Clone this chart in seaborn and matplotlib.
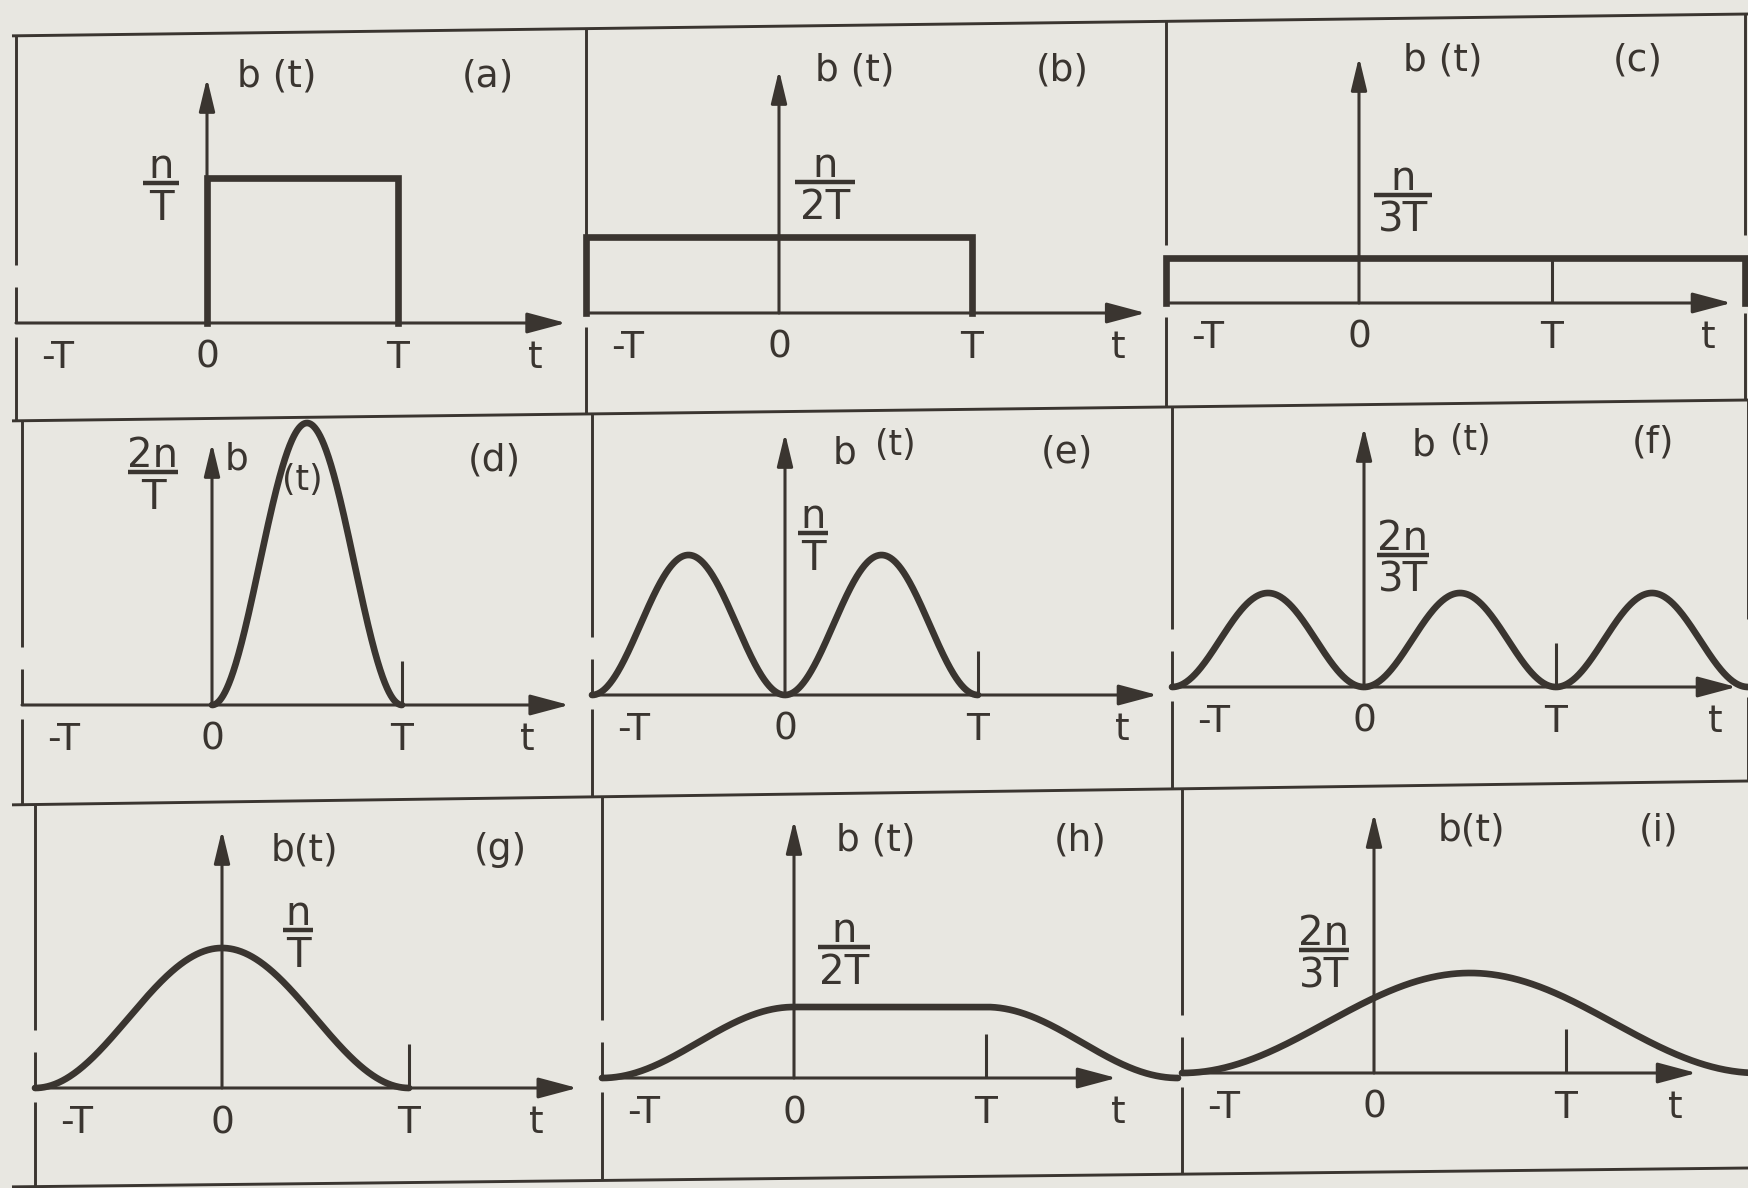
import numpy as np
import pandas as pd
import matplotlib
matplotlib.use("Agg")
import matplotlib.pyplot as plt
import seaborn as sns

# ---------------- pulse shapes b(t) ----------------
panel_tags  = ["(a)", "(b)", "(c)", "(d)", "(e)", "(f)", "(g)", "(h)", "(i)"]
peak_num    = ["n", "n", "n", "2n", "n", "2n", "n", "n", "2n"]
peak_den    = ["T", "2T", "3T", "T", "T", "3T", "T", "2T", "3T"]
peak_values = [1.0, 1 / 2, 1 / 3, 2.0, 1.0, 2 / 3, 1.0, 1 / 2, 2 / 3]   # units of n/T
pulse_start = [0, -1, -1, 0, -1, -1, -1, -1, -1]                      # units of T
pulse_end   = [1, 1, 2, 1, 1, 2, 1, 2, 2]
pulse_kind  = ["rect", "rect", "rect", "cos", "cos", "cos", "cos", "flat", "cos"]
cos_lobes   = [0, 0, 0, 1, 2, 3, 1, 0, 1]
edge_width  = [0, 0, 0, 0, 0, 0, 0, 1, 0]                             # roll-off of (h), units of T
axis_ticks  = ["-T", "0", "T", "t"]
func_labels = ["b (t)", "b (t)", "b (t)", "b", "b", "b", "b(t)", "b (t)", "b(t)"]

# ---------------- page layout (pixels) ----------------
W, H, DPI = 1749, 1188, 100
INK = "#3a3530"
PAPER = "#e8e7e1"

# ox, oy, T px, (n/T) px, arrow tip (T), vertical tip y, "t" label (T),
# function label x/y, tag x/y, fraction x / bar y / bar width
layout = [
    (207, 323, 191, 145, 1.88, 78, 1.72, 277, 77, 488, 77, 161, 183, 36),
    (779, 313, 193, 152, 1.90, 70, 1.76, 855, 70, 1062, 70, 825, 182, 60),
    (1359, 303, 193, 135, 1.93, 57, 1.81, 1443, 60, 1638, 60, 1403, 195, 58),
    (212, 705, 190, 141, 1.88, 443, 1.66, 237, 460, 494, 460, 153, 472, 50),
    (785, 695, 193, 140, 1.93, 433, 1.75, 845, 453, 1067, 453, 813, 533, 30),
    (1364, 687, 192, 141, 1.94, 427, 1.83, 1424, 446, 1653, 443, 1403, 555, 52),
    (222, 1088, 187, 140, 1.90, 830, 1.68, 304, 850, 500, 850, 298, 930, 30),
    (794, 1078, 192, 142, 1.68, 820, 1.69, 876, 840, 1080, 840, 844, 947, 52),
    (1374, 1073, 192, 150, 1.68, 813, 1.57, 1471, 830, 1659, 830, 1324, 950, 50),
]
arg_pos = {3: (302, 480), 4: (895, 445), 5: (1470, 440)}   # separate "(t)" in (d), (e), (f)
frame_rows = [(36, 14), (421, 400), (805, 781), (1187, 1168)]  # y at left / right edge

FS_TICK, FS_FUNC, FS_TAG, FS_FRAC = 27, 27, 27, 29
LW_FRAME, LW_AXIS, LW_CURVE = 2.1, 2.2, 4.8

sns.set_theme(style="white")
plt.rcParams["font.family"] = ["DejaVu Sans"]


def pulse(k):
    a, b, p = pulse_start[k], pulse_end[k], peak_values[k]
    if pulse_kind[k] == "rect":
        t = np.array([a, a, b, b], dtype=float)
        y = np.array([0, p, p, 0], dtype=float)
    elif pulse_kind[k] == "cos":
        t = np.linspace(a, b, 600)
        y = p * (1 - np.cos(2 * np.pi * cos_lobes[k] * (t - a) / (b - a))) / 2
    else:
        r = edge_width[k]
        t = np.linspace(a, b, 600)
        y = np.full_like(t, p)
        up = t < a + r
        dn = t > b - r
        y[up] = p * (1 - np.cos(np.pi * (t[up] - a) / r)) / 2
        y[dn] = p * (1 - np.cos(np.pi * (b - t[dn]) / r)) / 2
    return pd.DataFrame({"t": t, "b": y})


def row_y(i, x):
    y0, y1 = frame_rows[i]
    return y0 + (y1 - y0) * x / W


fig = plt.figure(figsize=(W / DPI, H / DPI), dpi=DPI)
fig.patch.set_facecolor(PAPER)
bg = fig.add_axes([0, 0, 1, 1], label="page")
bg.set_xlim(0, W)
bg.set_ylim(H, 0)
bg.axis("off")
bg.set_facecolor("none")

# horizontal rules of the table
for i in range(4):
    bg.plot([12, W], [row_y(i, 12), row_y(i, W)], color=INK, lw=LW_FRAME,
            solid_capstyle="butt")

head_h = "-|>,head_length=1.2,head_width=0.32"
head_v = "-|>,head_length=1.0,head_width=0.24"

for k in range(9):
    ox, oy, tp, sp, htip, vtip, tlab, fx, fy, gx, gy, qx, qy, qw = layout[k]
    row = k // 3
    ax = fig.add_axes([0, 0, 1, 1], label=f"panel{k}")
    ax.set_xlim((0 - ox) / tp, (W - ox) / tp)
    ax.set_ylim((oy - H) / sp, oy / sp)
    ax.axis("off")
    ax.set_facecolor("none")

    # cell borders with the small breaks around the time axis
    xl = ox - tp
    top, bot = row_y(row, xl), row_y(row + 1, xl)
    for y0, y1 in [(top, oy - 58), (oy - 36, oy), (oy + 14, bot)]:
        bg.plot([xl, xl], [y0, y1], color=INK, lw=LW_FRAME, solid_capstyle="butt")
    if k % 3 == 2:
        xr = ox + 2 * tp
        top, bot = row_y(row, xr), row_y(row + 1, xr)
        for y0, y1 in [(top, oy - 68), (oy + 10, bot)]:
            bg.plot([xr, xr], [y0, y1], color=INK, lw=LW_FRAME, solid_capstyle="butt")

    # axes with arrows
    ax.annotate("", xy=(htip, 0), xytext=(-1, 0),
                arrowprops=dict(arrowstyle=head_h, mutation_scale=20, lw=LW_AXIS,
                                color=INK, shrinkA=0, shrinkB=0))
    ax.annotate("", xy=(0, (oy - vtip) / sp), xytext=(0, 0),
                arrowprops=dict(arrowstyle=head_v, mutation_scale=20, lw=LW_AXIS,
                                color=INK, shrinkA=0, shrinkB=0))
    # tick at T
    ax.plot([1, 1], [0, 44 / sp], color=INK, lw=LW_AXIS, solid_capstyle="butt")

    # the pulse
    sns.lineplot(data=pulse(k), x="t", y="b", ax=ax, color=INK, lw=LW_CURVE,
                 sort=False, estimator=None, legend=False)
    for ln in ax.lines[-1:]:
        ln.set_solid_joinstyle("miter")
        ln.set_solid_capstyle("projecting" if pulse_kind[k] == "rect" else "round")

    # tick labels
    ly = oy + 35
    for lab, xx in zip(axis_ticks, [ox - tp + 42, ox, ox + tp, ox + tlab * tp]):
        bg.text(xx, ly, lab, fontsize=FS_TICK, color=INK, ha="center", va="center")

    # b(t) and panel tag
    bg.text(fx, fy, func_labels[k], fontsize=FS_FUNC, color=INK, ha="center", va="center")
    if k in arg_pos:
        ax_, ay_ = arg_pos[k]
        bg.text(ax_, ay_, "(t)", fontsize=FS_FUNC - 2, color=INK, ha="center", va="center")
    bg.text(gx, gy, panel_tags[k], fontsize=FS_TAG, color=INK, ha="center", va="center")

    # peak value as a stacked fraction
    bg.plot([qx - qw / 2, qx + qw / 2], [qy, qy], color=INK, lw=3.2, solid_capstyle="butt")
    bg.text(qx, qy - 5, peak_num[k], fontsize=FS_FRAC, color=INK, ha="center", va="baseline")
    bg.text(qx, qy + 6, peak_den[k], fontsize=FS_FRAC, color=INK, ha="center", va="top")

fig.savefig("out.png", dpi=DPI, facecolor=PAPER)
